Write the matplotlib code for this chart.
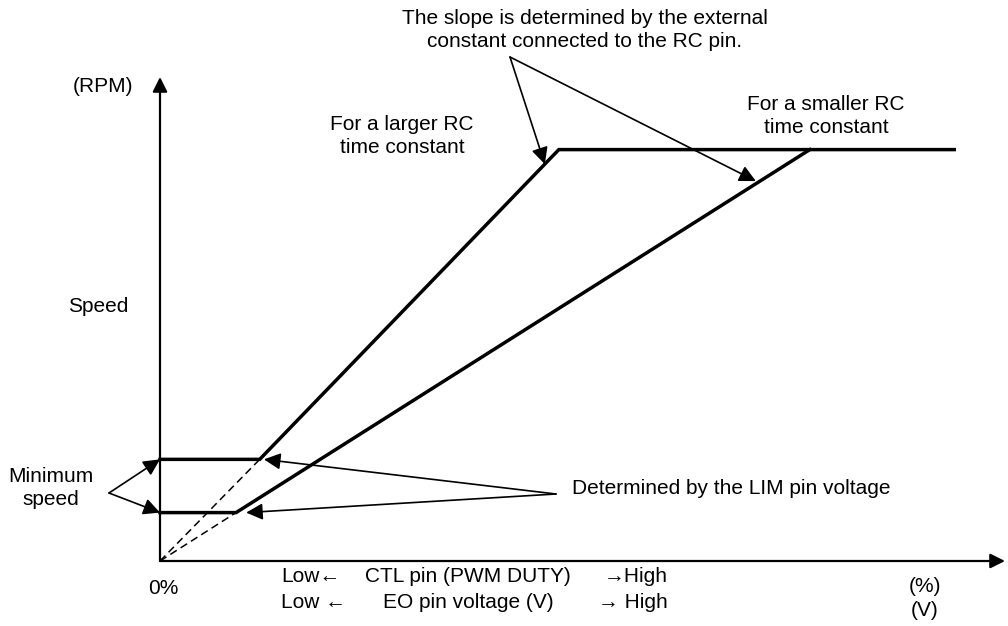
import numpy as np
import matplotlib.pyplot as plt

plt.rcParams['font.family'] = ['Liberation Sans', 'DejaVu Sans']

# speed curves (x: control input %, y: speed, arbitrary units)
x_large = [0, 11.8, 47.2, 94]
y_large = [21, 21, 85, 85]
x_small = [0, 9.0, 76.9]
y_small = [10, 10, 85]
# dashed extensions down to the origin
x_dash_large = [0, 11.8]
y_dash_large = [0, 21]
x_dash_small = [0, 9.0]
y_dash_small = [0, 10]

W, H = 1008, 626
fig = plt.figure(figsize=(W / 100, H / 100), dpi=100)
ax = fig.add_axes([160 / W, (H - 561) / H, (1005 - 160) / W, (561 - 77) / H])
ax.set_xlim(0, 100)
ax.set_ylim(0, 100)
ax.axis('off')

def px(x, y):
    return (x / W, 1 - y / H)

def on_line(xs, ys, i, y):
    # x of segment i..i+1 at height y
    return xs[i] + (y - ys[i]) * (xs[i + 1] - xs[i]) / (ys[i + 1] - ys[i])

fs = 15
ls = 1.32
k = dict(color='black', lw=1.2, arrowstyle='-|>', mutation_scale=25, shrinkA=0, shrinkB=0)

# axes with arrow heads
ax.annotate('', xy=(0, 1), xytext=(0, 0), xycoords='axes fraction',
            arrowprops=dict(k, lw=1.6, mutation_scale=22))
ax.annotate('', xy=(1, 0), xytext=(0, 0), xycoords='axes fraction',
            arrowprops=dict(k, lw=1.6, mutation_scale=22))

# curves
ax.plot(x_large, y_large, color='black', lw=2.5, solid_joinstyle='miter', clip_on=False)
ax.plot(x_small, y_small, color='black', lw=2.5, solid_joinstyle='miter', clip_on=False)
ax.plot(x_dash_large, y_dash_large, color='black', lw=1.1, ls=(0, (5, 3)))
ax.plot(x_dash_small, y_dash_small, color='black', lw=1.1, ls=(0, (5, 3)))

# slope annotation
fig.text(*px(585, 30), 'The slope is determined by the external\nconstant connected to the RC pin.',
         ha='center', va='center', fontsize=fs, linespacing=ls)
ax.annotate('', xy=(on_line(x_large, y_large, 1, 82), 82), xytext=px(510, 57),
            textcoords='figure fraction', arrowprops=k)
ax.annotate('', xy=(on_line(x_small, y_small, 1, 78.5) - 0.5, 78.5), xytext=px(510, 57),
            textcoords='figure fraction', arrowprops=k)

fig.text(*px(402, 136), 'For a larger RC\ntime constant', ha='center', va='center',
         fontsize=fs, linespacing=ls)
fig.text(*px(826, 116), 'For a smaller RC\ntime constant', ha='center', va='center',
         fontsize=fs, linespacing=ls)

# minimum speed
fig.text(*px(51, 488), 'Minimum\nspeed', ha='center', va='center', fontsize=fs, linespacing=ls)
ax.annotate('', xy=(0, y_large[0]), xytext=px(109, 493), textcoords='figure fraction', arrowprops=k)
ax.annotate('', xy=(0, y_small[0]), xytext=px(109, 493), textcoords='figure fraction', arrowprops=k)

# LIM pin
fig.text(*px(572, 489), 'Determined by the LIM pin voltage', ha='left', va='center', fontsize=fs)
ax.annotate('', xy=(x_large[1] + 0.5, y_large[1]), xytext=px(556, 494),
            textcoords='figure fraction', arrowprops=k)
ax.annotate('', xy=(x_small[1] + 1.2, y_small[1]), xytext=px(556, 494),
            textcoords='figure fraction', arrowprops=k)

# axis texts
fig.text(*px(103, 86), '(RPM)', ha='center', va='center', fontsize=fs)
fig.text(*px(98, 306), 'Speed', ha='center', va='center', fontsize=fs)
fig.text(*px(163, 588), '0%', ha='center', va='center', fontsize=fs)
fig.text(*px(925, 586), '(%)', ha='center', va='center', fontsize=fs)
fig.text(*px(925, 610), '(V)', ha='center', va='center', fontsize=fs)

fig.text(*px(281, 576), 'Low\u2190', ha='left', va='center', fontsize=fs)
fig.text(*px(365, 576), 'CTL pin (PWM DUTY)', ha='left', va='center', fontsize=fs)
fig.text(*px(604, 576), '\u2192High', ha='left', va='center', fontsize=fs)
fig.text(*px(281, 603), 'Low \u2190', ha='left', va='center', fontsize=fs)
fig.text(*px(383, 603), 'EO pin voltage (V)', ha='left', va='center', fontsize=fs)
fig.text(*px(598, 603), '\u2192 High', ha='left', va='center', fontsize=fs)

fig.savefig('out.png', dpi=100, facecolor='white')
